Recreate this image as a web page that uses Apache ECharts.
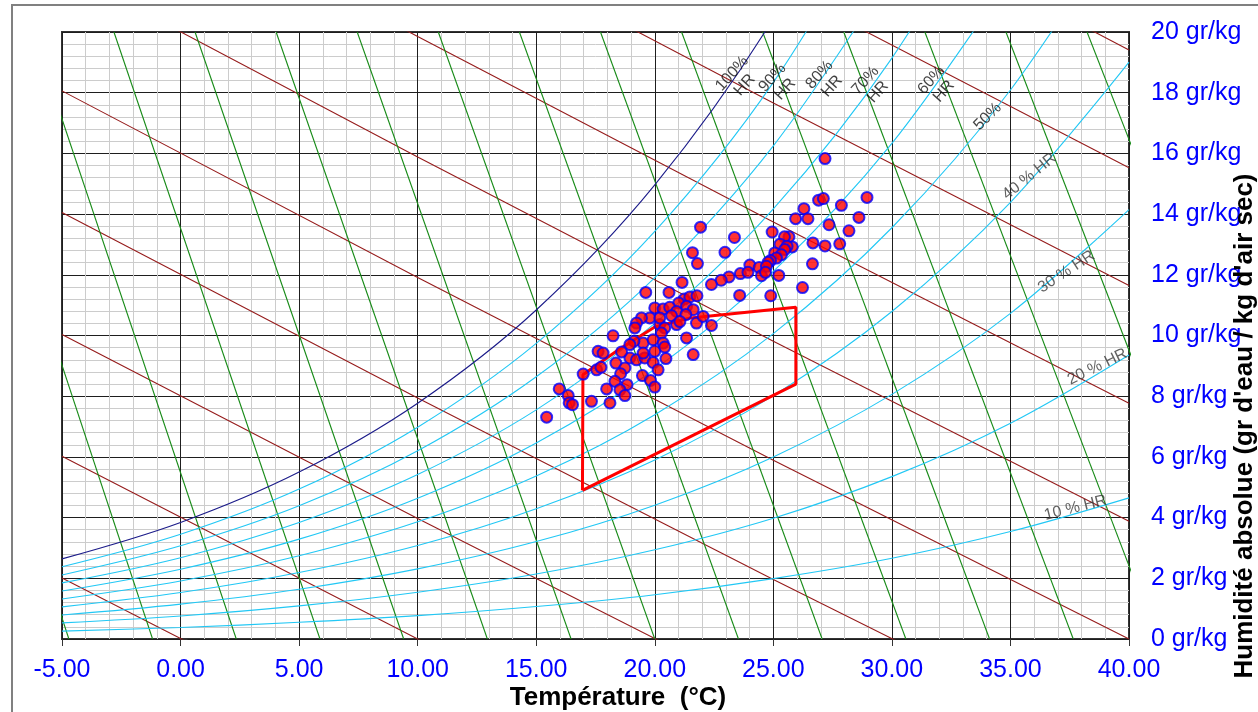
<!DOCTYPE html>
<html>
<head>
<meta charset="utf-8">
<script src="https://cdn.jsdelivr.net/npm/echarts@6/dist/echarts.min.js"></script>
<style>
html,body{margin:0;padding:0;background:#ffffff;}
#chart{width:1258px;height:712px;}
</style>
</head>
<body>
<div id="chart"></div>
<script>
// ---------- DATA ----------
// Temperature ticks (°C) and humidity ticks (g/kg)
const xTicks = [-5, 0, 5, 10, 15, 20, 25, 30, 35, 40];
const yTicks = [0, 2, 4, 6, 8, 10, 12, 14, 16, 18, 20];

// Relative-humidity curves: absolute humidity (g/kg) at each temperature of rhTemps
const rhTemps = [-5, 0, 5, 10, 15, 20, 25, 30, 35, 40];
const rh100 = [2.64, 3.84, 5.50, 7.77, 10.84, 14.96, 20.45, 27.70];
const rh90  = [2.38, 3.45, 4.94, 6.98, 9.74, 13.43, 18.34, 24.82];
const rh80  = [2.11, 3.07, 4.39, 6.20, 8.64, 11.91, 16.25, 21.97];
const rh70  = [1.85, 2.68, 3.84, 5.42, 7.55, 10.40, 14.17, 19.14, 25.62];
const rh60  = [1.58, 2.30, 3.29, 4.64, 6.46, 8.89, 12.11, 16.33, 21.83];
const rh50  = [1.32, 1.91, 2.74, 3.86, 5.37, 7.39, 10.06, 13.55, 18.09, 23.95];
const rh40  = [1.06, 1.53, 2.19, 3.08, 4.29, 5.90, 8.02, 10.79, 14.39, 19.01];
const rh30  = [0.79, 1.15, 1.64, 2.31, 3.21, 4.41, 6.00, 8.06, 10.73, 14.15];
const rh20  = [0.53, 0.76, 1.09, 1.54, 2.14, 2.94, 3.98, 5.35, 7.11, 9.36];
const rh10  = [0.26, 0.38, 0.55, 0.77, 1.07, 1.46, 1.99, 2.66, 3.54, 4.65];

// RH curve labels and their anchor points (°C, g/kg)
const rhLabelTexts   = ['100%\nHR', '90%\nHR', '80%\nHR', '70%\nHR', '60%\nHR', '50%', '40 % HR', '30 % HR', '20 % HR', '10 % HR'];
const rhLabelAnchors = [[23.53, 18.44], [25.23, 18.30], [27.21, 18.40], [29.15, 18.21], [31.93, 18.23],
                        [34.04, 17.21], [35.80, 15.24], [37.36, 12.10], [38.67, 8.97], [37.74, 4.32]];

// Enthalpy lines (kJ/kg): humidity (g/kg) at each temperature of enthTemps
const enthTemps = [-5, 10, 25, 40];
const enth0  = [2.01, -3.97, -9.81, -15.53];
const enth10 = [6.02, 0.00, -5.89, -11.65];
const enth20 = [10.03, 3.97, -1.96, -7.77];
const enth30 = [14.05, 7.94, 1.96, -3.88];
const enth40 = [18.06, 11.91, 5.89, 0.00];
const enth50 = [22.07, 15.88, 9.81, 3.88];
const enth60 = [26.09, 19.85, 13.74, 7.77];
const enth70 = [30.10, 23.81, 17.66, 11.65];
const enth80 = [34.11, 27.78, 21.59, 15.53];
const enth90 = [38.13, 31.75, 25.52, 19.41];

// Specific-volume lines: temperature where each line meets 0 g/kg and 20 g/kg
const volT0  = [-4.71, -1.18, 2.35, 5.88, 9.41, 12.94, 16.47, 20.00, 23.53, 27.06, 30.59, 34.12, 37.65, 41.18, 44.71, 48.24];
const volT20 = [-13.07, -9.65, -6.23, -2.81, 0.61, 4.03, 7.45, 10.87, 14.29, 17.71, 21.13, 24.55, 27.97, 31.39, 34.81, 38.23];

// Comfort zone polygon (°C, g/kg)
const comfortZone = [[16.95, 4.90], [25.95, 8.40], [25.95, 10.93], [21.5, 10.58], [20.0, 10.28], [18.5, 9.55], [16.97, 8.71], [16.95, 4.90]];

// Measured points (°C, g/kg)
const measurements = [
[27.18,15.83],[26.91,14.46],[27.11,14.51],[27.87,14.29],[28.95,14.55],[26.29,14.18],[25.94,13.85],[26.46,13.85],
[28.61,13.89],[27.35,13.65],[28.19,13.45],[24.95,13.41],[23.36,13.23],[25.66,13.25],[25.47,13.25],[25.28,13.01],
[25.80,12.92],[25.58,12.94],[25.48,12.83],[26.67,13.05],[27.18,12.95],[27.80,13.02],[22.96,12.74],[25.06,12.72],
[25.34,12.66],[25.13,12.55],[24.88,12.47],[24.78,12.41],[26.65,12.36],[24.01,12.32],[24.40,12.24],[24.71,12.28],
[23.61,12.04],[23.93,12.08],[24.50,11.97],[24.67,12.08],[25.23,11.98],[23.13,11.93],[22.80,11.82],[22.39,11.68],
[26.23,11.58],[23.58,11.32],[24.89,11.31],[21.93,13.57],[21.59,12.73],[21.80,12.37],[21.15,11.75],[19.62,11.42],
[20.60,11.42],[21.24,11.20],[21.48,11.27],[21.78,11.31],[21.01,11.07],[21.34,10.96],[21.62,10.85],[20.00,10.91],
[20.35,10.87],[20.63,10.93],[20.92,10.79],[19.79,10.58],[19.44,10.58],[19.23,10.41],[19.16,10.25],[20.71,10.65],
[21.31,10.69],[21.76,10.41],[22.39,10.33],[22.04,10.63],[20.21,10.36],[20.42,10.25],[20.92,10.36],[18.24,9.99],
[21.34,9.92],[20.28,10.08],[20.21,10.58],[21.06,10.46],[19.51,9.75],[19.93,9.86],[20.35,9.75],[20.00,9.48],
[20.42,9.62],[20.47,9.24],[21.62,9.37],[19.12,9.81],[18.95,9.70],[17.61,9.48],[17.82,9.42],[18.95,9.26],
[19.23,9.20],[19.58,9.26],[18.36,9.09],[18.74,8.93],[19.93,9.11],[20.14,8.87],[17.55,8.87],[17.73,8.95],
[16.98,8.73],[19.48,8.68],[19.82,8.52],[20.00,8.30],[18.56,8.74],[18.32,8.49],[18.83,8.38],[17.97,8.24],
[18.53,8.21],[18.74,8.02],[15.97,8.24],[16.35,8.02],[16.39,7.78],[16.53,7.72],[17.33,7.83],[18.11,7.78],
[15.44,7.31],[19.51,9.42],[18.60,9.46]
];

// ---------- BUILD ----------
const FONT = '"Liberation Sans", Arial, sans-serif';
const rhCurves = [rh100, rh90, rh80, rh70, rh60, rh50, rh40, rh30, rh20, rh10];
const enthCurves = [enth0, enth10, enth20, enth30, enth40, enth50, enth60, enth70, enth80, enth90];
const labelRot = [48, 48, 48, 48, 48, 45, 39, 33, 26, 14];

const series = [];

enthCurves.forEach(function (vals) {
  series.push({
    type: 'line', silent: true, symbol: 'none', z: 3, animation: false,
    lineStyle: { color: '#961c1c', width: 1.1 },
    data: vals.map(function (w, i) { return [enthTemps[i], w]; })
  });
});

volT0.forEach(function (t0, i) {
  series.push({
    type: 'line', silent: true, symbol: 'none', z: 3, animation: false,
    lineStyle: { color: '#168a16', width: 1.1 },
    data: [[t0, 0], [volT20[i], 20]]
  });
});

rhCurves.forEach(function (vals, k) {
  series.push({
    type: 'line', silent: true, symbol: 'none', z: 4, animation: false,
    smooth: 0.35,
    lineStyle: { color: k === 0 ? '#1c1c8a' : '#22c8f5', width: 1.1 },
    data: vals.map(function (w, i) { return [rhTemps[i], w]; })
  });
});

series.push({
  type: 'scatter', silent: true, z: 7, animation: false,
  symbolSize: 1, itemStyle: { color: 'rgba(0,0,0,0)' },
  data: rhLabelAnchors.map(function (p, i) {
    return {
      value: p,
      label: {
        show: true, position: 'inside', formatter: rhLabelTexts[i], rotate: labelRot[i],
        color: i < 6 ? '#111111' : '#3a3a3a', fontSize: 16, fontFamily: FONT,
        align: 'center', verticalAlign: 'middle', lineHeight: 17
      }
    };
  })
});

series.push({
  type: 'line', silent: true, symbol: 'none', z: 5, animation: false,
  lineStyle: { color: '#ff0000', width: 3 },
  data: comfortZone
});

series.push({
  type: 'scatter', silent: true, z: 6, animation: false,
  symbol: 'circle', symbolSize: 11,
  itemStyle: { color: '#ff0000', borderColor: '#0000ff', borderWidth: 2 },
  data: measurements
});

const chart = echarts.init(document.getElementById('chart'), null, { renderer: 'canvas' });
chart.setOption({
  animation: false,
  backgroundColor: '#ffffff',
  grid: { left: 62, right: 129, top: 32, bottom: 73, show: true, borderColor: '#333333', borderWidth: 2, backgroundColor: 'rgba(0,0,0,0)' },
  xAxis: {
    type: 'value', min: xTicks[0], max: xTicks[xTicks.length - 1], interval: 5,
    axisLine: { show: false },
    axisTick: { show: true, length: 7, lineStyle: { color: '#333333' } },
    axisLabel: { color: '#0000ff', fontSize: 25, fontFamily: FONT, margin: 19, showMinLabel: true, showMaxLabel: true,
      formatter: function (v) { return v.toFixed(2); } },
    splitLine: { show: true, lineStyle: { color: '#1e1e1e', width: 1 } },
    minorTick: { show: false, splitNumber: 5 },
    minorSplitLine: { show: true, lineStyle: { color: '#cccccc', width: 1 } }
  },
  yAxis: {
    type: 'value', position: 'right', min: yTicks[0], max: yTicks[yTicks.length - 1], interval: 2,
    axisLine: { show: false },
    axisTick: { show: true, length: 7, lineStyle: { color: '#333333' } },
    axisLabel: { color: '#0000ff', fontSize: 25, fontFamily: FONT, margin: 22, showMinLabel: true, showMaxLabel: true,
      formatter: function (v) { return v + ' gr/kg'; } },
    splitLine: { show: true, lineStyle: { color: '#1e1e1e', width: 1 } },
    minorTick: { show: false, splitNumber: 5 },
    minorSplitLine: { show: true, lineStyle: { color: '#cccccc', width: 1 } }
  },
  graphic: [
    { type: 'rect', z: -10, silent: true,
      shape: { x: 12, y: 5, width: 1400, height: 900 },
      style: { fill: null, stroke: '#808080', lineWidth: 2 } },
    { type: 'text', z: 10, silent: true, x: 618, y: 698,
      style: { text: 'Température  (°C)', fill: '#000000', font: 'bold 26px ' + FONT,
        textAlign: 'center', textVerticalAlign: 'middle', align: 'center', verticalAlign: 'middle' } },
    { type: 'text', z: 10, silent: true, x: 1245, y: 426, rotation: Math.PI / 2,
      style: { text: "Humidité absolue (gr d'eau / kg d'air sec)", fill: '#000000', font: 'bold 26px ' + FONT,
        textAlign: 'center', textVerticalAlign: 'middle', align: 'center', verticalAlign: 'middle' } }
  ],
  series: series
});
</script>
</body>
</html>
